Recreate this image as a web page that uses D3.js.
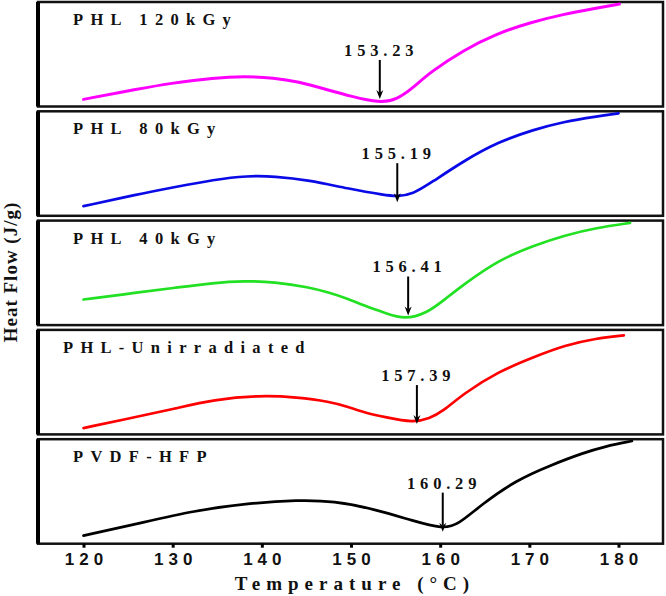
<!DOCTYPE html>
<html>
<head>
<meta charset="utf-8">
<script src="https://cdn.jsdelivr.net/npm/d3@7"></script>
<style>
  body { margin: 0; background: #fff; }
  svg { display: block; }
</style>
</head>
<body>
<div id="chart"></div>
<script>
// DSC traces, heat flow in relative units (0-100 of each panel)
var sampleNames = ['PHL 120kGy', 'PHL 80kGy', 'PHL 40kGy', 'PHL-Unirradiated', 'PVDF-HFP'];
var peakTemps = [153.23, 155.19, 156.41, 157.39, 160.29];
var xTicks = [120, 130, 140, 150, 160, 170, 180];

var phl120 = [[120, 6], [126, 16], [130, 22], [134.6, 27], [138, 28.5], [141.4, 27],
  [144, 23.5], [147.5, 15], [150, 9], [153.2, 2.5], [155.1, 5.5], [157, 17.5],
  [158.8, 32], [162.6, 54], [166.3, 70], [170.1, 81], [173.8, 89], [177.5, 95], [180.1, 99]];
var phl80 = [[120, 8.4], [126, 19.9], [130.3, 27.1], [134.6, 34.3], [138.4, 38.1],
  [141.4, 37.6], [145.3, 33.8], [149.6, 25.6], [153.9, 19], [155.2, 18], [156.9, 19.9],
  [159, 31.4], [162.6, 52.4], [166.5, 71.1], [170.5, 83.1], [173.8, 90.7], [177.5, 96], [180, 98.9]];
var phl40 = [[120, 24], [126, 30.7], [130.3, 35.5], [134.6, 40.3], [138, 42.2], [141.4, 41.2],
  [145.3, 36], [147.6, 30.7], [149.6, 25], [151.4, 18.3], [153.9, 10.6], [156, 4.5],
  [158.5, 10.6], [160.5, 24], [162.6, 38.4], [166.5, 62.3], [170.5, 76.7], [174, 86.7],
  [177.5, 93.9], [181.3, 98.7]];
var phl0 = [[120, 5.2], [126, 16.2], [130.3, 24.3], [134.6, 32.9], [139.7, 37.2], [144, 35.3],
  [147.6, 31], [149.6, 26.2], [151.4, 20.5], [153.9, 15.7], [157, 10.5], [158.8, 14.7],
  [160.3, 21.4], [162.6, 38.7], [166.5, 60.2], [170.5, 74.5], [174, 86], [177.5, 92.7], [180.6, 95.6]];
var pvdf = [[120, 6.9], [126, 18.4], [132.4, 31.3], [138.9, 38.9], [144, 41.5], [148, 40.9],
  [152.9, 32.2], [157, 21.2], [160.3, 13.5], [162, 17.4], [164.6, 37], [168.5, 61],
  [172.5, 76], [176, 87.5], [178.5, 94], [181.5, 99.2]];

var series = [phl120, phl80, phl40, phl0, pvdf];
var colors = ['#ff00ff', '#0a0ae6', '#22e022', '#ff0000', '#000000'];

var width = 666, height = 596;
var left = 38, right = 663;
var panelTop = 2, panelStep = 109.3, panelH = 104.5;
var serif = '"Liberation Serif", "Times New Roman", serif';
var sans = '"Liberation Sans", Arial, sans-serif';

var svg = d3.select('#chart').append('svg')
    .attr('width', width)
    .attr('height', height);

var x = d3.scaleLinear().domain([120, 180]).range([83.5, 618.5]);

series.forEach(function(data, i) {
  var top = panelTop + i * panelStep;
  var bottom = top + panelH;
  var y = d3.scaleLinear().domain([0, 100]).range([bottom - 1, top + 1]);
  var g = svg.append('g');

  g.append('rect')
      .attr('x', left).attr('y', top)
      .attr('width', right - left).attr('height', panelH)
      .attr('fill', 'none')
      .attr('stroke', '#111')
      .attr('stroke-width', 2.5);
  g.append('line')
      .attr('x1', left).attr('x2', left)
      .attr('y1', top).attr('y2', bottom)
      .attr('stroke', '#000')
      .attr('stroke-width', 4);

  var line = d3.line()
      .x(function(d) { return x(d[0]); })
      .y(function(d) { return y(d[1]); })
      .curve(d3.curveBasis);
  g.append('path')
      .datum(data)
      .attr('d', line)
      .attr('fill', 'none')
      .attr('stroke', colors[i])
      .attr('stroke-width', i == 0 ? 3 : 2.7)
      .attr('stroke-linecap', 'round');

  g.append('text')
      .attr('x', i == 3 ? 63 : 73)
      .attr('y', top + 23)
      .attr('font-family', serif)
      .attr('font-weight', 'bold')
      .attr('font-size', 16.5)
      .attr('letter-spacing', 7.3)
      .attr('fill', '#111')
      .text(sampleNames[i]);

  // peak marker: arrow pointing at the melting minimum
  var minV = d3.min(data, function(d) { return d[1]; });
  var tipY = y(minV) - 4;
  var px = x(peakTemps[i]);
  var ls = 4.8;
  g.append('line')
      .attr('x1', px).attr('x2', px)
      .attr('y1', tipY - 39).attr('y2', tipY - 6)
      .attr('stroke', '#000')
      .attr('stroke-width', 2);
  g.append('path')
      .attr('d', 'M' + (px - 3.5) + ',' + (tipY - 9) + 'L' + px + ',' + (tipY - 6) +
                 'L' + (px + 3.5) + ',' + (tipY - 9) + 'L' + px + ',' + tipY + 'Z')
      .attr('fill', '#000');
  g.append('text')
      .attr('x', px - 1 + ls / 2)
      .attr('y', tipY - 43)
      .attr('text-anchor', 'middle')
      .attr('font-family', serif)
      .attr('font-weight', 'bold')
      .attr('font-size', 16.5)
      .attr('letter-spacing', ls)
      .attr('fill', '#111')
      .text(peakTemps[i].toFixed(2));
});

var axisY = panelTop + 4 * panelStep + panelH;
var xAxis = svg.append('g')
    .attr('transform', 'translate(0,' + axisY + ')')
    .call(d3.axisBottom(x).tickValues(xTicks).tickSize(4).tickPadding(5));
xAxis.select('.domain').remove();
xAxis.selectAll('.tick line')
    .attr('stroke', '#000')
    .attr('stroke-width', 3);
xAxis.selectAll('.tick text')
    .attr('font-family', sans)
    .attr('font-weight', 'bold')
    .attr('font-size', 17)
    .attr('letter-spacing', 5)
    .attr('dx', 2.5)
    .attr('fill', '#111');

svg.append('text')
    .attr('x', 355)
    .attr('y', 590)
    .attr('text-anchor', 'middle')
    .attr('font-family', serif)
    .attr('font-weight', 'bold')
    .attr('font-size', 19)
    .attr('letter-spacing', 6)
    .attr('fill', '#111')
    .text('Temperature (°C)');

svg.append('text')
    .attr('transform', 'translate(17,272) rotate(-90)')
    .attr('text-anchor', 'middle')
    .attr('font-family', serif)
    .attr('font-weight', 'bold')
    .attr('font-size', 19)
    .attr('letter-spacing', 1)
    .attr('fill', '#111')
    .text('Heat Flow (J/g)');
</script>
</body>
</html>
